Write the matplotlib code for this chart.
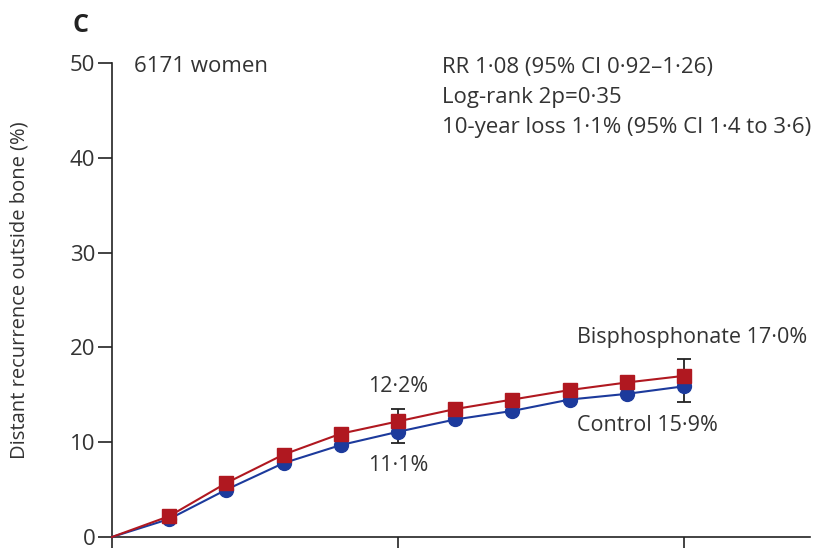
import matplotlib
matplotlib.use("Agg")
import matplotlib.pyplot as plt

plt.rcParams['font.family'] = ['Open Sans', 'DejaVu Sans']

years = [0, 1, 2, 3, 4, 5, 6, 7, 8, 9, 10]
bisphosphonate = [0, 2.2, 5.7, 8.7, 10.9, 12.2, 13.5, 14.5, 15.5, 16.3, 17.0]
control = [0, 1.9, 5.0, 7.8, 9.7, 11.1, 12.4, 13.3, 14.5, 15.1, 15.9]
err_years = [5, 10]
bis_err_top = [13.5, 18.8]
ctl_err_bottom = [9.9, 14.2]
yticks = [0, 10, 20, 30, 40, 50]
xticks = [0, 5, 10]

red = '#B01820'
blue = '#1C3A9C'

fig = plt.figure(figsize=(8.21, 5.48), dpi=100)
ax = fig.add_axes([112/821, 1-537/548, 698/821, 474/548])

for x, y0, y1 in zip(err_years, ctl_err_bottom, bis_err_top):
    ax.errorbar([x], [(y0+y1)/2], yerr=[[(y1-y0)/2], [(y1-y0)/2]], fmt='none',
                ecolor='#222222', elinewidth=1.3, capsize=5, capthick=1.3, zorder=2)

ax.plot(years, bisphosphonate, color=red, lw=1.5, zorder=4, clip_on=False)
ax.plot(years, control, color=blue, lw=1.5, zorder=3, clip_on=False)
ax.plot(years[1:], bisphosphonate[1:], color=red, marker='s', markersize=9.5, lw=0, zorder=4, clip_on=False)
ax.plot(years[1:], control[1:], color=blue, marker='o', markersize=10, lw=0, zorder=3, clip_on=False)

ax.set_xlim(0, 12.2)
ax.set_ylim(0, 50)
ax.set_yticks(yticks)
ax.set_xticks(xticks)
ax.set_xticklabels([])
ax.tick_params(axis='both', direction='out', length=10, width=1.2, color='#222222',
               labelsize=16, labelcolor='#333333', pad=2)
for s in ['top', 'right']:
    ax.spines[s].set_visible(False)
for s in ['left', 'bottom']:
    ax.spines[s].set_linewidth(1.2)
    ax.spines[s].set_color('#222222')

ax.set_ylabel('Distant recurrence outside bone (%)', fontsize=14.5, color='#333333')
ax.yaxis.label.set_verticalalignment('center')
ax.yaxis.set_label_coords(-0.132, 0.521)

tc = '#333333'
fs = 16
fig.text(72/821, 1-25/548, 'C', fontsize=18, fontweight='bold', color='#222222', va='center', ha='left')
fig.text(134/821, 1-67/548, '6171 women', fontsize=fs, color=tc, va='center', ha='left')
fig.text(442/821, 1-67/548, 'RR 1·08 (95% CI 0·92–1·26)', fontsize=fs, color=tc, va='center', ha='left')
fig.text(442/821, 1-97/548, 'Log-rank 2p=0·35', fontsize=fs, color=tc, va='center', ha='left')
fig.text(442/821, 1-128/548, '10-year loss 1·1% (95% CI 1·4 to 3·6)', fontsize=fs, color=tc, va='center', ha='left')

fa = 15.5
ax.text(5, 15.9, '12·2%', fontsize=fa, color=tc, ha='center', va='center')
ax.text(5, 7.5, '11·1%', fontsize=fa, color=tc, ha='center', va='center')
ax.text(8.12, 21.0, 'Bisphosphonate 17·0%', fontsize=fa, color=tc, ha='left', va='center')
ax.text(8.12, 11.8, 'Control 15·9%', fontsize=fa, color=tc, ha='left', va='center')

fig.savefig('out.png', dpi=100)
